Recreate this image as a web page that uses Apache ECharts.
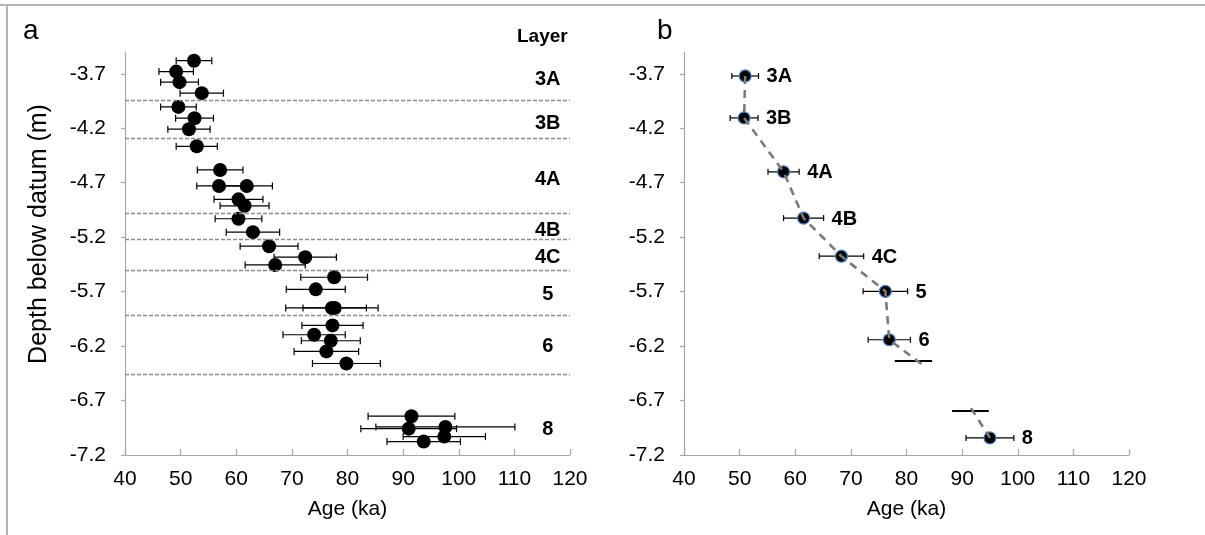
<!DOCTYPE html>
<html>
<head>
<meta charset="utf-8">
<script src="https://cdn.jsdelivr.net/npm/echarts@6/dist/echarts.min.js"></script>
<style>
  html, body { margin: 0; padding: 0; background: #fff; }
  #chart { width: 1205px; height: 535px; }
</style>
</head>
<body>
<div id="chart"></div>
<script>
// Panel a: individual OSL ages (ka), depths (m) and 1-sigma errors (ka)
const agesA   = [52.4, 49.2, 49.8, 53.8, 49.6, 52.5, 51.5, 52.9, 57.1, 56.9, 61.9, 60.4, 61.5, 60.4, 63.0, 65.9,
                 72.4, 67.0, 77.6, 74.3, 77.2, 77.7, 77.3, 74.0, 77.0, 76.2, 79.8, 91.5, 91.0, 97.6, 97.4, 93.7];
const depthsA = [-3.58, -3.68, -3.777, -3.878, -4.004, -4.108, -4.209, -4.366, -4.583, -4.73, -4.73, -4.853, -4.912,
                 -5.031, -5.154, -5.283, -5.384, -5.455, -5.568, -5.679, -5.85, -5.85, -6.01, -6.096, -6.151, -6.249,
                 -6.36, -6.844, -6.958, -6.942, -7.031, -7.077];
const errsA   = [3.2, 3.1, 3.4, 3.9, 3.2, 3.4, 3.8, 3.7, 4.1, 4.0, 4.6, 4.4, 4.4, 4.2, 4.8, 5.2,
                 5.6, 5.4, 6.0, 5.3, 8.3, 5.7, 5.5, 5.6, 5.3, 5.8, 6.1, 7.8, 8.6, 12.5, 7.4, 6.6];

// Layer boundaries and layer names (panel a)
const layerBoundaries = [-3.94, -4.286, -4.976, -5.22, -5.505, -5.915, -6.455];
const layerNamesA  = ['3A', '3B', '4A', '4B', '4C', '5', '6', '8'];
const layerDepthsA = [-3.75, -4.16, -4.67, -5.14, -5.39, -5.73, -6.2, -6.97];

// Panel b: layer mean ages
const layersB = ['3A', '3B', '4A', '4B', '4C', '5', '6', '8'];
const agesB   = [51.0, 50.8, 57.9, 61.5, 68.3, 76.2, 76.9, 95.0];
const depthsB = [-3.72, -4.105, -4.60, -5.025, -5.375, -5.697, -6.142, -7.043];
const errsB   = [2.4, 2.5, 2.8, 3.6, 4.0, 4.0, 3.8, 4.3];

// Trend line gap between layer 6 and layer 8, with its break marks [from age, to age, depth]
const trendGapEnd   = [83.1, -6.38];
const trendGapStart = [91.6, -6.77];
const breakMarks = [[77.9, 84.6, -6.333], [88.2, 94.8, -6.79]];

// Axis ticks
const depthTicks = [-3.7, -4.2, -4.7, -5.2, -5.7, -6.2, -6.7, -7.2];
const ageMin = 40, ageMax = 120, ageStep = 10;
const depthMin = -7.2, depthMax = -3.5;

const FONT = 'Liberation Sans, Arial, sans-serif';
const labelX = 116; // age at which the layer names of panel a are centred

function errorBarItem(capHalf, labels) {
  return function (params, api) {
    const age = api.value(0), d = api.value(1), e = api.value(2);
    const lo = api.coord([age - e, d]);
    const hi = api.coord([age + e, d]);
    const st = { stroke: '#000', lineWidth: 1.2 };
    const kids = [
      { type: 'line', shape: { x1: lo[0], y1: lo[1], x2: hi[0], y2: hi[1] }, style: st },
      { type: 'line', shape: { x1: lo[0], y1: lo[1] - capHalf, x2: lo[0], y2: lo[1] + capHalf }, style: st },
      { type: 'line', shape: { x1: hi[0], y1: hi[1] - capHalf, x2: hi[0], y2: hi[1] + capHalf }, style: st }
    ];
    if (labels) {
      kids.push({
        type: 'text', x: hi[0] + 8, y: hi[1] + 1,
        style: { text: labels[params.dataIndex], fill: '#000', font: 'bold 20px ' + FONT,
                 textAlign: 'left', textVerticalAlign: 'middle' }
      });
    }
    return { type: 'group', children: kids };
  };
}

function layerNameItem(params, api) {
  const p = api.coord([labelX, api.value(0)]);
  return {
    type: 'text', x: p[0], y: p[1],
    style: { text: layerNamesA[params.dataIndex], fill: '#000', font: 'bold 20px ' + FONT,
             textAlign: 'center', textVerticalAlign: 'middle' }
  };
}

function xAxisFor(gridIndex) {
  return {
    type: 'value', gridIndex, min: ageMin, max: ageMax, interval: ageStep,
    name: 'Age (ka)', nameLocation: 'middle', nameGap: 44,
    nameTextStyle: { fontFamily: FONT, fontSize: 21, color: '#000' },
    axisLine: { show: true, onZero: false, lineStyle: { color: '#a6a6a6', width: 1.2 } },
    axisTick: { show: true, inside: true, length: 6, lineStyle: { color: '#a6a6a6', width: 1.2 } },
    axisLabel: { fontFamily: FONT, fontSize: 21, color: '#000', margin: 14 },
    splitLine: { show: false }
  };
}

function yAxisFor(gridIndex) {
  return {
    type: 'value', gridIndex, min: depthMin, max: depthMax,
    axisLine: { show: true, onZero: false, lineStyle: { color: '#a6a6a6', width: 1.2 } },
    axisTick: { show: true, length: 4, customValues: depthTicks, lineStyle: { color: '#a6a6a6', width: 1.2 } },
    axisLabel: { fontFamily: FONT, fontSize: 21, color: '#000', margin: 19, customValues: depthTicks,
                 formatter: v => v.toFixed(1) },
    splitLine: { show: false }
  };
}

const dataA = agesA.map((a, i) => [a, depthsA[i], errsA[i]]);
const dataB = agesB.map((a, i) => [a, depthsB[i], errsB[i]]);
const iSix = layersB.indexOf('6');
const trendUpper = agesB.slice(0, iSix + 1).map((a, i) => [a, depthsB[i]]).concat([trendGapEnd]);
const trendLower = [trendGapStart, [agesB[agesB.length - 1], depthsB[depthsB.length - 1]]];

const chart = echarts.init(document.getElementById('chart'), null, { renderer: 'canvas' });
chart.setOption({
  animation: false,
  backgroundColor: '#fff',
  grid: [
    { left: 125, right: 635, top: 52, bottom: 80 },
    { left: 684, right: 76, top: 52, bottom: 80 }
  ],
  xAxis: [xAxisFor(0), xAxisFor(1)],
  yAxis: [yAxisFor(0), yAxisFor(1)],
  graphic: [
    { type: 'line', shape: { x1: 0, y1: 5, x2: 1205, y2: 5 }, style: { stroke: '#b4b4b4', lineWidth: 2 } },
    { type: 'line', shape: { x1: 7, y1: 5, x2: 7, y2: 535 }, style: { stroke: '#b4b4b4', lineWidth: 2 } },
    { type: 'text', left: 23, top: 17, style: { text: 'a', font: '28px ' + FONT, fill: '#000' } },
    { type: 'text', left: 657, top: 17, style: { text: 'b', font: '28px ' + FONT, fill: '#000' } },
    { type: 'text', left: 517, top: 27, style: { text: 'Layer', font: 'bold 19px ' + FONT, fill: '#000' } },
    {
      type: 'text', x: 39, y: 234, rotation: Math.PI / 2,
      style: { text: 'Depth below datum (m)', font: '25px ' + FONT, fill: '#000',
               textAlign: 'center', textVerticalAlign: 'middle' }
    }
  ],
  series: [
    // panel a: layer boundaries
    {
      type: 'line', xAxisIndex: 0, yAxisIndex: 0, data: [], silent: true,
      markLine: {
        symbol: 'none', silent: true, label: { show: false },
        lineStyle: { color: '#8c8c8c', type: [4, 2], width: 1.3 },
        data: layerBoundaries.map(d => ({ yAxis: d }))
      }
    },
    // panel a: error bars
    {
      type: 'custom', xAxisIndex: 0, yAxisIndex: 0, data: dataA, z: 2,
      renderItem: errorBarItem(3.5, null)
    },
    // panel a: ages
    {
      type: 'scatter', xAxisIndex: 0, yAxisIndex: 0, z: 3,
      data: dataA.map(p => [p[0], p[1]]),
      symbol: 'circle', symbolSize: 14, itemStyle: { color: '#000', opacity: 1 }
    },
    // panel a: layer names
    {
      type: 'custom', xAxisIndex: 0, yAxisIndex: 0, z: 4, silent: true,
      data: layerDepthsA.map(d => [d]),
      encode: { y: 0 },
      renderItem: layerNameItem
    },
    // panel b: error bars with layer labels
    {
      type: 'custom', xAxisIndex: 1, yAxisIndex: 1, data: dataB, z: 2,
      renderItem: errorBarItem(3, layersB)
    },
    // panel b: layer mean ages
    {
      type: 'scatter', xAxisIndex: 1, yAxisIndex: 1, z: 3,
      data: dataB.map(p => [p[0], p[1]]),
      symbol: 'circle', symbolSize: 12,
      itemStyle: { color: '#000', borderColor: '#4f81bd', borderWidth: 1.2, opacity: 1 }
    },
    // panel b: dashed trend line
    {
      type: 'line', xAxisIndex: 1, yAxisIndex: 1, z: 5, data: trendUpper, symbol: 'none', silent: true,
      lineStyle: { color: '#7a7a7a', width: 2.6, type: [8, 6] }
    },
    {
      type: 'line', xAxisIndex: 1, yAxisIndex: 1, z: 5, data: trendLower, symbol: 'none', silent: true,
      lineStyle: { color: '#7a7a7a', width: 2.6, type: [8, 6] }
    },
    // panel b: break marks on the trend line
    {
      type: 'line', xAxisIndex: 1, yAxisIndex: 1, data: [], silent: true,
      markLine: {
        symbol: 'none', silent: true, label: { show: false },
        lineStyle: { color: '#000', type: 'solid', width: 2 },
        data: breakMarks.map(b => [{ coord: [b[0], b[2]] }, { coord: [b[1], b[2]] }])
      }
    }
  ]
});
</script>
</body>
</html>
